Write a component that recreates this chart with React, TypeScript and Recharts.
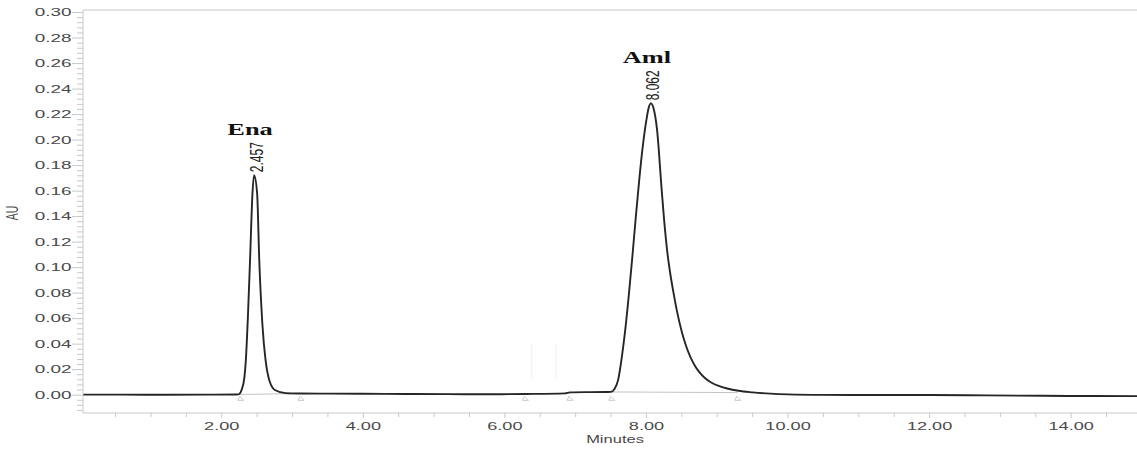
import React from 'react';
import { Line, LineChart, ReferenceDot, ReferenceLine, XAxis, YAxis } from 'recharts';

// chromatogram trace, [minutes, AU]
const leadBaseline: [number, number][] = [
  [0.04, 0.0004], [0.6, 0.0004], [1.2, 0.0003], [1.8, 0.0004], [2.2, 0.0005],
];
const enaPeak: [number, number][] = [
  [2.24, 0.0006], [2.28, 0.004], [2.32, 0.014], [2.34, 0.027], [2.37, 0.062], [2.4, 0.106],
  [2.434, 0.158], [2.457, 0.1725], [2.5, 0.158], [2.53, 0.106], [2.575, 0.055], [2.62, 0.027],
  [2.66, 0.014], [2.75, 0.004], [2.9, 0.0016], [3.1, 0.0013],
];
const midBaseline: [number, number][] = [
  [3.4, 0.0012], [4.0, 0.0011], [4.6, 0.0009], [5.2, 0.0008], [5.8, 0.0007], [6.3, 0.0009],
  [6.85, 0.0014], [6.92, 0.0022], [7.2, 0.0024], [7.45, 0.0025],
];
const amlPeak: [number, number][] = [
  [7.5, 0.0026], [7.55, 0.005], [7.6, 0.012], [7.65, 0.029], [7.7, 0.051], [7.75, 0.078],
  [7.8, 0.108], [7.85, 0.14], [7.9, 0.17], [7.95, 0.196], [8.0, 0.216], [8.03, 0.225],
  [8.062, 0.2288], [8.1, 0.225], [8.15, 0.208], [8.215, 0.161], [8.25, 0.137], [8.295, 0.112],
  [8.34, 0.094], [8.38, 0.081], [8.44, 0.0635], [8.5, 0.0495], [8.56, 0.0385], [8.62, 0.03],
  [8.68, 0.0235], [8.75, 0.0178], [8.83, 0.0132], [8.92, 0.0097], [9.02, 0.0072], [9.14, 0.0052],
  [9.3, 0.0034], [9.5, 0.0022], [9.75, 0.0012],
];
const tailBaseline: [number, number][] = [
  [10.0, 0.0006], [10.5, 0.0002], [11.2, 0.0001], [12.0, 0.0001], [12.8, -0.0002],
  [13.6, -0.0005], [14.3, -0.0007], [14.93, -0.0008],
];

const peaks = [
  { name: 'Ena', rt: '2.457', t: 2.457, au: 0.1725 },
  { name: 'Aml', rt: '8.062', t: 8.062, au: 0.2288 },
];
const integrationMarks = [2.27, 3.12, 6.29, 6.92, 7.51, 9.29];
const integrationBaselines: [number, number, number, number][] = [
  [2.27, 0.0005, 3.12, 0.0013],
  [7.51, 0.0025, 9.29, 0.002],
];
const eventLines = [6.38, 6.72];

const xMajor = [2, 4, 6, 8, 10, 12, 14];
const xTicks = Array.from({ length: 29 }, (_, i) => 0.5 + i * 0.5);
const yMajor = [0, 0.02, 0.04, 0.06, 0.08, 0.1, 0.12, 0.14, 0.16, 0.18, 0.2, 0.22, 0.24, 0.26, 0.28, 0.3];
const yTicks = Array.from({ length: 79 }, (_, i) => +(-0.012 + i * 0.004).toFixed(3));

const data = [...leadBaseline, ...enaPeak, ...midBaseline, ...amlPeak, ...tailBaseline].map(([t, au]) => ({ t, au }));

const AXIS = '#c8c8c8';
const TXT = '#4a4a4a';
const SANS = 'Liberation Sans, Arial, sans-serif';

const XTick = (p: any) => {
  const v = p.payload.value;
  const major = xMajor.some((m) => Math.abs(m - v) < 1e-6);
  return (
    <g>
      <line x1={p.x} x2={p.x} y1={413} y2={major ? 418 : 417} stroke={AXIS} />
      {major && (
        <text transform={`translate(${p.x},430) scale(1.65,1)`} textAnchor="middle" fontSize={11} fontFamily={SANS} fill={TXT}>
          {v.toFixed(2)}
        </text>
      )}
    </g>
  );
};

const YTick = (p: any) => {
  const v = p.payload.value;
  const major = yMajor.some((m) => Math.abs(m - v) < 1e-6);
  return (
    <g>
      <line x1={major ? 72 : 77} x2={83} y1={p.y} y2={p.y} stroke={AXIS} />
      {major && (
        <text transform={`translate(71.5,${p.y + 3.5}) scale(1.8,1)`} textAnchor="end" fontSize={10.5} fontFamily={SANS} fill={TXT}>
          {v.toFixed(2)}
        </text>
      )}
    </g>
  );
};

const PeakTag = ({ cx, cy, name, rt }: any) => (
  <g>
    <text
      transform={`translate(${cx + 2},${cy - 3}) scale(1.5,1) rotate(-90)`}
      textAnchor="start"
      dominantBaseline="central"
      fontSize={12}
      fontFamily={SANS}
      fill="#222"
    >
      {rt}
    </text>
    <text
      transform={`translate(${cx - 4},${cy - 40}) scale(1.65,1)`}
      textAnchor="middle"
      fontSize={16}
      fontWeight="bold"
      fontFamily="Liberation Serif, Times New Roman, serif"
      fill="#111"
    >
      {name}
    </text>
  </g>
);

const Mark = ({ cx, cy }: any) => (
  <path d={`M${cx - 3},${cy + 2} L${cx + 3},${cy + 2} L${cx - 1},${cy - 2} Z`} fill="none" stroke="#bbb" strokeWidth={0.8} />
);

export default function App() {
  return (
    <div style={{ width: 1137, height: 450, background: '#fff' }}>
      <style>{'body{margin:0}'}</style>
      <LineChart width={1137} height={450} data={data} margin={{ top: 10, right: 0, bottom: 0, left: 0 }}>
        <XAxis
          type="number"
          dataKey="t"
          domain={[0.04, 14.93]}
          allowDataOverflow
          ticks={xTicks}
          interval={0}
          tickLine={false}
          axisLine={{ stroke: AXIS }}
          tick={XTick}
          height={37}
        />
        <YAxis
          type="number"
          domain={[-0.014, 0.302]}
          allowDataOverflow
          ticks={yTicks}
          interval={0}
          tickLine={false}
          axisLine={{ stroke: AXIS }}
          tick={YTick}
          width={83}
        />
        <ReferenceLine y={0.302} stroke={AXIS} />
        {eventLines.map((t) => (
          <ReferenceLine key={t} segment={[{ x: t, y: 0.012 }, { x: t, y: 0.04 }]} stroke="#f2f2f2" />
        ))}
        {integrationBaselines.map(([x1, y1, x2, y2]) => (
          <ReferenceLine key={x1} segment={[{ x: x1, y: y1 }, { x: x2, y: y2 }]} stroke="#c4c4c4" />
        ))}
        {integrationMarks.map((t) => (
          <ReferenceDot key={t} x={t} y={-0.0025} r={0} shape={Mark} />
        ))}
        <Line
          dataKey="au"
          type="monotone"
          stroke="#262626"
          strokeWidth={1.9}
          dot={false}
          isAnimationActive={false}
        />
        {peaks.map((p) => (
          <ReferenceDot
            key={p.name}
            x={p.t}
            y={p.au}
            r={0}
            shape={(s: any) => <PeakTag cx={s.cx} cy={s.cy} name={p.name} rt={p.rt} />}
          />
        ))}
        <text transform="translate(13,213) scale(1.5,1) rotate(-90)" textAnchor="middle" dominantBaseline="central" fontSize={10.5} fontFamily={SANS} fill={TXT}>
          AU
        </text>
        <text transform="translate(615,443) scale(1.5,1)" textAnchor="middle" fontSize={11} fontFamily={SANS} fill={TXT}>
          Minutes
        </text>
      </LineChart>
    </div>
  );
}
